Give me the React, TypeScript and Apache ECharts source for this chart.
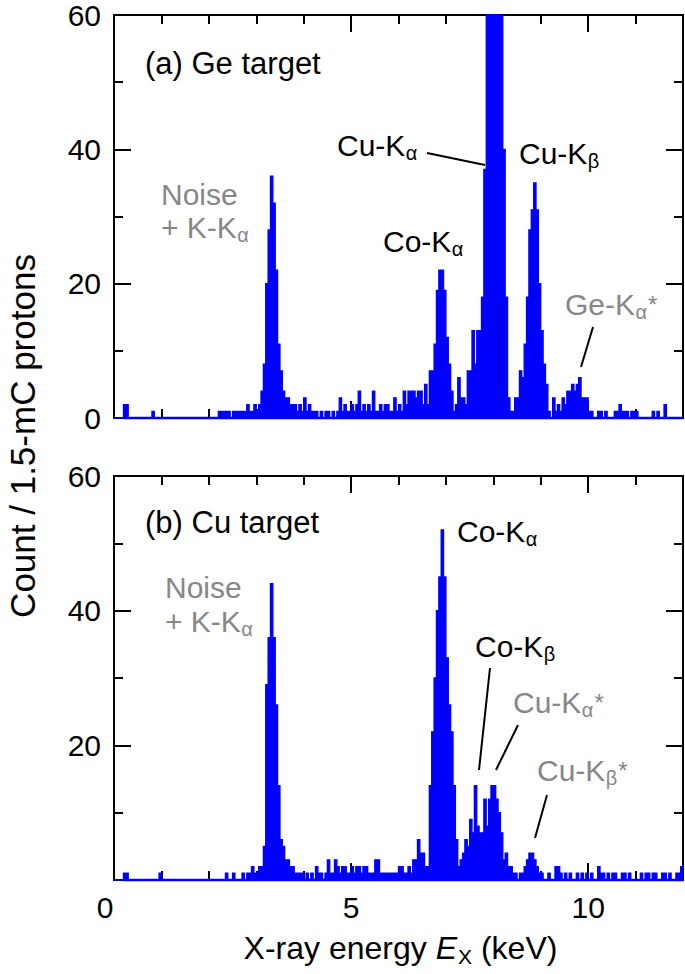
import React, { useEffect, useRef } from 'react';
import * as echarts from 'echarts';

const FONT = '"Liberation Sans", Arial, Helvetica, sans-serif';
const BLUE = '#0000ff';
const GRAY = '#878787';

// Energy axis (keV) and count axis
const BIN_KEV = 0.05;
const X_MIN = 0;
const X_MAX = 12;
const X_MAJOR = 5;
const X_MINOR = 1;
const Y_MAX = 60;
const Y_MAJOR = 20;
const BASELINE_START_KEV = 0.2;

// (a) Ge target — counts per 0.05-keV bin (20 bins per keV)
const geCounts0to4 = [
  0, 0, 0, 0, 2, 2, 0, 0, 0, 0, 0, 0, 0, 0, 0, 0, 1, 0, 0, 0,
  0, 0, 0, 0, 0, 0, 0, 0, 0, 0, 0, 0, 0, 0, 0, 0, 0, 0, 0, 0,
  0, 0, 0, 0, 1, 1, 1, 1, 1, 0, 1, 1, 1, 1, 1, 1, 2, 1, 1, 2,
  1, 2, 4, 8, 20, 28, 36, 32, 22, 11, 7, 4, 3, 3, 2, 2, 2, 1, 2, 1,
];
const geCounts4to8 = [
  3, 1, 2, 1, 1, 1, 0, 1, 0, 1, 1, 0, 1, 0, 1, 3, 1, 2, 1, 1,
  2, 1, 2, 4, 1, 2, 1, 2, 1, 4, 1, 1, 2, 1, 2, 2, 1, 1, 3, 1,
  2, 1, 4, 2, 4, 4, 4, 3, 4, 4, 2, 5, 2, 7, 7, 11, 19, 22, 22, 19,
  12, 8, 4, 1, 2, 6, 3, 3, 2, 7, 7, 13, 8, 13, 13, 18, 37, 90, 160, 240,
];
const geCounts8to12 = [
  280, 240, 160, 90, 40, 18, 3, 1, 1, 3, 3, 7, 6, 11, 18, 28, 31, 35, 31, 20,
  13, 8, 5, 1, 0, 3, 1, 2, 1, 3, 2, 4, 4, 5, 4, 5, 6, 3, 3, 3,
  1, 1, 0, 0, 1, 1, 0, 1, 0, 0, 0, 1, 1, 2, 1, 1, 1, 0, 1, 1,
  1, 0, 0, 0, 0, 0, 0, 1, 0, 1, 0, 0, 2, 0, 0, 0, 0, 0, 0, 0,
];

// (b) Cu target — counts per 0.05-keV bin
const cuCounts0to4 = [
  0, 0, 0, 0, 1, 1, 0, 0, 0, 0, 0, 0, 0, 0, 0, 0, 0, 0, 0, 1,
  0, 0, 0, 0, 0, 0, 0, 0, 0, 0, 0, 0, 0, 0, 0, 0, 0, 0, 0, 0,
  0, 0, 0, 0, 0, 0, 0, 1, 0, 0, 1, 0, 0, 0, 1, 0, 1, 1, 2, 1,
  1, 2, 2, 5, 29, 36, 44, 36, 26, 14, 6, 5, 3, 3, 2, 2, 1, 1, 1, 1,
];
const cuCounts4to8 = [
  0, 1, 0, 1, 0, 2, 1, 1, 0, 1, 3, 1, 1, 3, 2, 1, 2, 2, 1, 1,
  2, 1, 2, 2, 1, 2, 2, 1, 1, 1, 3, 3, 1, 1, 1, 1, 1, 1, 1, 1,
  2, 2, 1, 1, 2, 1, 3, 3, 6, 4, 4, 2, 2, 14, 22, 30, 40, 45, 52, 45,
  33, 26, 22, 14, 6, 2, 3, 4, 6, 5, 9, 7, 14, 8, 7, 7, 12, 8, 12, 14,
];
const cuCounts8to12 = [
  14, 12, 10, 7, 3, 4, 2, 2, 1, 1, 0, 1, 1, 2, 3, 4, 4, 3, 2, 1,
  1, 0, 0, 1, 0, 0, 2, 2, 1, 0, 1, 0, 1, 0, 0, 1, 0, 1, 0, 1,
  0, 1, 0, 0, 2, 1, 1, 0, 1, 0, 1, 1, 0, 0, 1, 1, 0, 1, 0, 0,
  0, 0, 1, 0, 1, 1, 0, 1, 1, 0, 0, 1, 1, 0, 1, 0, 0, 1, 1, 2,
];

const geCounts = [...geCounts0to4, ...geCounts4to8, ...geCounts8to12];
const cuCounts = [...cuCounts0to4, ...cuCounts4to8, ...cuCounts8to12];

// Annotations
type Ann = { main: string; sub?: string; star?: boolean; color: string; x: number; y: number; size?: number };
const annotations: Ann[] = [
  { main: '(a) Ge target', color: '#000', x: 145, y: 63, size: 31 },
  { main: 'Noise', color: GRAY, x: 161, y: 194 },
  { main: '+ K-K', sub: 'α', color: GRAY, x: 161, y: 227 },
  { main: 'Cu-K', sub: 'α', color: '#000', x: 337, y: 145 },
  { main: 'Cu-K', sub: 'β', color: '#000', x: 519, y: 153 },
  { main: 'Co-K', sub: 'α', color: '#000', x: 383, y: 241 },
  { main: 'Ge-K', sub: 'α', star: true, color: GRAY, x: 565, y: 304 },
  { main: '(b) Cu target', color: '#000', x: 145, y: 522, size: 31 },
  { main: 'Noise', color: GRAY, x: 165, y: 587 },
  { main: '+ K-K', sub: 'α', color: GRAY, x: 165, y: 621 },
  { main: 'Co-K', sub: 'α', color: '#000', x: 457, y: 531 },
  { main: 'Co-K', sub: 'β', color: '#000', x: 475, y: 646 },
  { main: 'Cu-K', sub: 'α', star: true, color: GRAY, x: 513, y: 702 },
  { main: 'Cu-K', sub: 'β', star: true, color: GRAY, x: 537, y: 770 },
];
const leaders: number[][] = [
  [427, 153, 485, 165],
  [593, 327, 581, 367],
  [490, 668, 479, 770],
  [518, 725, 496, 770],
  [547, 795, 535, 838],
];

let measureCtx: CanvasRenderingContext2D | null = null;
function tw(text: string, size: number, italic = false): number {
  if (!measureCtx) measureCtx = document.createElement('canvas').getContext('2d');
  if (!measureCtx) return text.length * size * 0.55;
  measureCtx.font = `${italic ? 'italic ' : ''}${size}px ${FONT}`;
  return measureCtx.measureText(text).width;
}

function textEl(x: number, y: number, text: string, size: number, color: string, extra: any = {}) {
  const { italic, align, ...rest } = extra;
  return {
    type: 'text',
    x,
    y,
    silent: true,
    ...rest,
    style: {
      text,
      fill: color,
      font: `${italic ? 'italic ' : ''}${size}px ${FONT}`,
      textAlign: align || 'left',
      textVerticalAlign: 'middle',
      align: align || 'left',
      verticalAlign: 'middle',
    },
  };
}

function annEls(a: Ann) {
  const size = a.size || 30;
  const els: any[] = [textEl(a.x, a.y, a.main, size, a.color)];
  let cx = a.x + tw(a.main, size);
  if (a.sub) {
    els.push(textEl(cx + 0.5, a.y + 8, a.sub, 20, a.color));
    cx += tw(a.sub, 20) + 0.5;
  }
  if (a.star) els.push(textEl(cx + 1, a.y, '*', 24, a.color));
  return els;
}

function xTitleEls() {
  const size = 32;
  const subSize = 21;
  const p1 = 'X-ray energy ';
  const w1 = tw(p1, size);
  const w2 = tw('E', size, true);
  const w3 = tw('X', subSize);
  const p4 = ' (keV)';
  const w4 = tw(p4, size);
  const total = w1 + w2 + w3 + w4;
  const cy = 948;
  let x = 400 - total / 2;
  const els: any[] = [];
  els.push(textEl(x, cy, p1, size, '#000'));
  x += w1;
  els.push(textEl(x, cy, 'E', size, '#000', { italic: true }));
  x += w2 + 1;
  els.push(textEl(x, cy + 8, 'X', subSize, '#000'));
  x += w3;
  els.push(textEl(x, cy, p4, size, '#000'));
  return els;
}

function histogramSeries(name: string, counts: number[], xAxisIndex: number, yAxisIndex: number) {
  return {
    type: 'custom',
    name,
    xAxisIndex,
    yAxisIndex,
    z: 3,
    silent: true,
    data: counts.map((c, i) => [(i + 0.5) * BIN_KEV, c]),
    encode: { x: 0, y: 1 },
    renderItem: (params: any, api: any) => {
      if (params.dataIndex !== 0) return null;
      const pts: number[][] = [api.coord([X_MIN, 0])];
      counts.forEach((c, i) => {
        const v = Math.min(c, Y_MAX);
        pts.push(api.coord([i * BIN_KEV, v]));
        pts.push(api.coord([(i + 1) * BIN_KEV, v]));
      });
      pts.push(api.coord([X_MAX, 0]));
      const b0 = api.coord([BASELINE_START_KEV, 0]);
      const b1 = api.coord([X_MAX, 0]);
      return {
        type: 'group',
        children: [
          {
            type: 'polygon',
            shape: { points: pts },
            style: { fill: BLUE, stroke: BLUE, lineWidth: 1.3, lineJoin: 'miter' },
          },
          {
            type: 'line',
            shape: { x1: b0[0], y1: b0[1], x2: b1[0], y2: b1[1] },
            style: { stroke: BLUE, lineWidth: 2.4 },
          },
        ],
      };
    },
  };
}

function buildOption() {
  const axisLine = { show: true, onZero: false, lineStyle: { color: '#000', width: 2 } };
  const tickStyle = { color: '#000', width: 2 };
  const labelStyle = { color: '#000', fontSize: 30, fontFamily: FONT };

  const xAxes: any[] = [];
  const yAxes: any[] = [];
  [0, 1].forEach((g) => {
    (['bottom', 'top'] as const).forEach((pos) => {
      xAxes.push({
        gridIndex: g, type: 'value', min: X_MIN, max: X_MAX, interval: X_MAJOR, position: pos,
        axisLine, splitLine: { show: false },
        axisTick: { show: true, inside: true, length: 17, lineStyle: tickStyle },
        axisLabel: {
          show: g === 1 && pos === 'bottom', margin: 12, showMaxLabel: false, ...labelStyle,
          formatter: (v: number) => (v === 0 ? '{zero|0}' : String(v)),
          rich: { zero: { ...labelStyle, padding: [0, 18, 0, 0] } },
        },
      });
      xAxes.push({
        gridIndex: g, type: 'value', min: X_MIN, max: X_MAX, interval: X_MINOR, position: pos,
        axisLine, splitLine: { show: false },
        axisTick: { show: true, inside: true, length: 9, lineStyle: tickStyle },
        axisLabel: { show: false },
      });
    });
    (['left', 'right'] as const).forEach((pos) => {
      yAxes.push({
        gridIndex: g, type: 'value', min: 0, max: Y_MAX, interval: Y_MAJOR, position: pos,
        axisLine, splitLine: { show: false },
        axisTick: { show: true, inside: true, length: 17, lineStyle: tickStyle },
        minorTick: { show: true, splitNumber: 2, length: 9, lineStyle: tickStyle },
        axisLabel: { show: pos === 'left', margin: 13, showMinLabel: g === 0, ...labelStyle },
      });
    });
  });

  const graphic: any[] = [];
  annotations.forEach((a) => graphic.push(...annEls(a)));
  leaders.forEach(([x1, y1, x2, y2]) =>
    graphic.push({ type: 'line', silent: true, shape: { x1, y1, x2, y2 }, style: { stroke: '#000', lineWidth: 2 } })
  );
  graphic.push(...xTitleEls());
  graphic.push({
    type: 'text', x: 22, y: 436, rotation: Math.PI / 2, silent: true,
    style: {
      text: 'Count / 1.5-mC protons', fill: '#000', font: `35px ${FONT}`,
      textAlign: 'center', textVerticalAlign: 'middle', align: 'center', verticalAlign: 'middle',
    },
  });

  return {
    animation: false,
    backgroundColor: '#ffffff',
    grid: [
      { left: 114, top: 14, width: 569, height: 404 },
      { left: 114, top: 476, width: 569, height: 404 },
    ],
    xAxis: xAxes,
    yAxis: yAxes,
    series: [
      histogramSeries('Ge target', geCounts, 0, 0),
      histogramSeries('Cu target', cuCounts, 4, 2),
    ],
    graphic,
  };
}

export default function App() {
  const ref = useRef<HTMLDivElement>(null);
  useEffect(() => {
    if (!ref.current) return;
    const chart = echarts.init(ref.current, undefined, { renderer: 'svg' });
    chart.setOption(buildOption() as any);
    return () => chart.dispose();
  }, []);
  return (
    <div
      ref={ref}
      style={{ position: 'absolute', left: 0, top: 0, width: 685, height: 974, background: '#fff' }}
    />
  );
}
